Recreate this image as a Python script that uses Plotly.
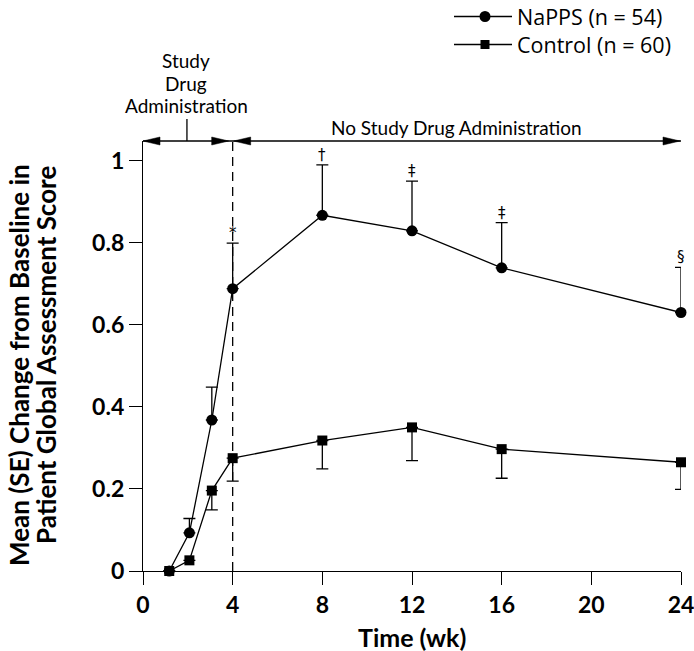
import plotly.graph_objects as go

# ---- data ----
weeks = [1.17, 2.07, 3.07, 4, 8, 12, 16, 24]
napps_mean = [0, 0.093, 0.368, 0.688, 0.867, 0.829, 0.739, 0.630]
napps_se = [0, 0.035, 0.080, 0.111, 0.123, 0.121, 0.110, 0.110]
control_mean = [0, 0.026, 0.196, 0.275, 0.318, 0.350, 0.297, 0.265]
control_se = [0, 0, 0.047, 0.056, 0.069, 0.081, 0.071, 0.066]
sig_weeks = [4, 8, 12, 16, 24]
sig_marks = ["*", "\u2020", "\u2021", "\u2021", "\u00a7"]
series_names = ["NaPPS (n = 54)", "Control (n = 60)"]
x_ticks = [0, 4, 8, 12, 16, 20, 24]
y_ticks = [0, 0.2, 0.4, 0.6, 0.8, 1]
y_tick_text = ["0", "0.2", "0.4", "0.6", "0.8", "1"]
y_title_lines = ["Mean (SE) Change from Baseline in", "Patient Global Assessment Score"]
study_lines = ["Study", "Drug", "Administration"]

FONT = "Lato"
Y_TOP = 1.048
LW = 1.3
W, H = 694, 651
ML, MR, MT, MB = 143, 13, 141, 80
PW, PH = W - ML - MR, H - MT - MB


def px_x(p):  # pixel column -> paper x
    return (p - ML) / PW


def px_y(p):  # pixel row -> paper y
    return (H - MB - p) / PH


fig = go.Figure()
fig.add_trace(go.Scatter(
    x=weeks, y=napps_mean, name=series_names[0], mode="lines+markers",
    line=dict(color="black", width=LW),
    marker=dict(symbol="circle", size=11, color="black"),
    error_y=dict(type="data", symmetric=False, array=napps_se,
                 arrayminus=[0] * len(napps_se), color="black",
                 thickness=LW, width=6),
    cliponaxis=False, showlegend=False,
))
fig.add_trace(go.Scatter(
    x=weeks, y=control_mean, name=series_names[1], mode="lines+markers",
    line=dict(color="black", width=LW),
    marker=dict(symbol="square", size=10, color="black"),
    error_y=dict(type="data", symmetric=False, array=[0] * len(control_se),
                 arrayminus=control_se, color="black",
                 thickness=LW, width=6),
    cliponaxis=False, showlegend=False,
))

shapes = [
    dict(type="line", xref="x", yref="paper", x0=0, x1=24, y0=1, y1=1,
         line=dict(color="black", width=LW)),
    dict(type="line", xref="x", yref="paper", x0=4, x1=4, y0=0, y1=1,
         line=dict(color="black", width=LW, dash="9px,6px")),
    dict(type="line", xref="x", yref="paper", ysizemode="pixel", yanchor=1,
         x0=1.96, x1=1.96, y0=0, y1=22, line=dict(color="black", width=LW)),
]
arrow_specs = [(0, "M0,0 L17,4 L17,-4 Z"),
               (4, "M-4,0 L-21,4 L-21,-4 Z"),
               (4, "M1,0 L18,4 L18,-4 Z"),
               (24, "M-1,0 L-18,4 L-18,-4 Z")]
for xa, p in arrow_specs:
    shapes.append(dict(type="path", xref="x", yref="paper",
                       xsizemode="pixel", ysizemode="pixel",
                       xanchor=xa, yanchor=1, path=p,
                       fillcolor="black", line=dict(color="black", width=0.5)))

# hand-made legend (tight rows as in the reference)
legend_rows = [16.5, 44.5]
for k, (name, row) in enumerate(zip(series_names, legend_rows)):
    yy = px_y(row)
    shapes.append(dict(type="line", xref="paper", yref="paper",
                       x0=px_x(454), x1=px_x(512), y0=yy, y1=yy,
                       line=dict(color="black", width=LW)))
    if k == 0:
        shapes.append(dict(type="circle", xref="paper", yref="paper",
                           xsizemode="pixel", ysizemode="pixel",
                           xanchor=px_x(485), yanchor=yy,
                           x0=-5.5, x1=5.5, y0=-5.5, y1=5.5,
                           fillcolor="black", line=dict(width=0)))
    else:
        shapes.append(dict(type="rect", xref="paper", yref="paper",
                           xsizemode="pixel", ysizemode="pixel",
                           xanchor=px_x(485), yanchor=yy,
                           x0=-4.5, x1=4.5, y0=-4.5, y1=4.5,
                           fillcolor="black", line=dict(width=0)))

annotations = []
for k, (name, row) in enumerate(zip(series_names, legend_rows)):
    annotations.append(dict(x=px_x(515), y=px_y(row), xref="paper", yref="paper",
                            text=name, showarrow=False, xanchor="left",
                            yanchor="middle",
                            font=dict(family="Open Sans", size=21.5, color="black")))
for w, m in zip(sig_weeks, sig_marks):
    i = weeks.index(w)
    annotations.append(dict(x=w, y=napps_mean[i] + napps_se[i], xref="x", yref="y",
                            text=m, showarrow=False, yanchor="bottom", yshift=-1,
                            font=dict(family="DejaVu Sans", size=15, color="black")))
for line, row in zip(study_lines, [61, 83, 105]):
    annotations.append(dict(x=1.92, y=px_y(row), xref="x", yref="paper",
                            text=line, showarrow=False, yanchor="middle",
                            font=dict(family=FONT, size=19, color="black")))
annotations += [
    dict(x=14.0, y=px_y(127), xref="x", yref="paper",
         text="No Study Drug Administration", showarrow=False,
         font=dict(family=FONT, size=19, color="black"), yanchor="middle"),
    dict(x=px_x(19), y=px_y(365), xref="paper", yref="paper", textangle=-90,
         text=y_title_lines[0], showarrow=False, xanchor="center", yanchor="middle",
         font=dict(family=FONT, size=26, color="black", weight="bold")),
    dict(x=px_x(46), y=px_y(355), xref="paper", yref="paper", textangle=-90,
         text=y_title_lines[1], showarrow=False, xanchor="center", yanchor="middle",
         font=dict(family=FONT, size=26, color="black", weight="bold")),
    dict(x=0.5, y=px_y(637), xref="paper", yref="paper", text="Time (wk)",
         showarrow=False, xanchor="center", yanchor="middle",
         font=dict(family=FONT, size=25, color="black", weight="bold")),
]

fig.update_layout(
    width=W, height=H,
    margin=dict(l=ML, r=MR, t=MT, b=MB, pad=0, autoexpand=False),
    paper_bgcolor="white", plot_bgcolor="white",
    showlegend=False,
    shapes=shapes, annotations=annotations,
    font=dict(family=FONT, color="black"),
)
fig.update_xaxes(range=[0, 24], tickvals=x_ticks, ticks="outside", ticklen=13,
                 tickwidth=LW, tickcolor="black", showline=True, linecolor="black",
                 linewidth=LW, showgrid=False, zeroline=False,
                 ticklabeloverflow="allow",
                 tickfont=dict(family=FONT, size=23, color="black", weight="bold"))
fig.update_yaxes(range=[0, Y_TOP], tickvals=y_ticks, ticktext=y_tick_text,
                 ticks="outside", ticklen=13, tickwidth=LW, tickcolor="black",
                 showline=True, linecolor="black", linewidth=LW, showgrid=False,
                 zeroline=False,
                 tickfont=dict(family=FONT, size=23, color="black", weight="bold"))

fig.write_html("out.html", config={"displayModeBar": False},
               post_script="document.body.style.margin='0px';")
